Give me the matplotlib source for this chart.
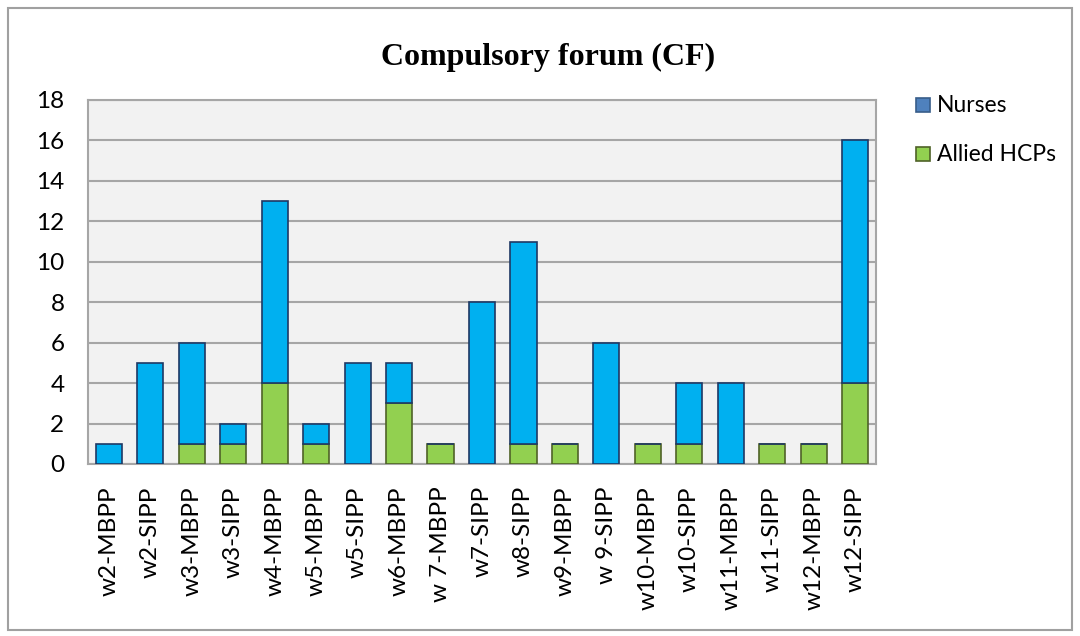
import matplotlib
matplotlib.use("Agg")
import matplotlib.pyplot as plt
from matplotlib.patches import Rectangle
import numpy as np

categories = ["w2-MBPP", "w2-SIPP", "w3-MBPP", "w3-SIPP", "w4-MBPP", "w5-MBPP",
              "w5-SIPP", "w6-MBPP", "w 7-MBPP", "w7-SIPP", "w8-SIPP", "w9-MBPP",
              "w 9-SIPP", "w10-MBPP", "w10-SIPP", "w11-MBPP", "w11-SIPP",
              "w12-MBPP", "w12-SIPP"]
allied = [0, 0, 1, 1, 4, 1, 0, 3, 1, 0, 1, 1, 0, 1, 1, 0, 1, 1, 4]
nurses = [1, 5, 5, 1, 9, 1, 5, 2, 0, 8, 10, 0, 6, 0, 3, 4, 0, 0, 12]
legend_labels = ["Nurses", "Allied HCPs"]

W, H = 1080, 636
fig = plt.figure(figsize=(W / 100, H / 100), dpi=100)
fig.patch.set_facecolor("white")
fig.patches.append(Rectangle((8 / W, 6 / H), 1064 / W, 622 / H, transform=fig.transFigure,
                             fill=False, edgecolor="#A0A0A0", linewidth=1.5))

ax = fig.add_axes([88 / W, (H - 464) / H, 788 / W, 364 / H])
ax.set_facecolor("#F2F2F2")
x = np.arange(len(categories))
w = 0.63
ax.bar(x, allied, width=w, color="#92D050", edgecolor="#4F6228", linewidth=1.2, zorder=3)
ax.bar(x, nurses, width=w, bottom=allied, color="#00B0F0", edgecolor="#1F3864",
       linewidth=1.2, zorder=3)

ax.set_xlim(-0.5, len(categories) - 0.5)
ax.set_ylim(0, 18)
ax.set_yticks(range(0, 19, 2))
ax.yaxis.grid(True, color="#A6A6A6", linewidth=1.5, zorder=0)
ax.set_axisbelow(True)
for s in ax.spines.values():
    s.set_color("#A6A6A6")
    s.set_linewidth(1.5)
ax.tick_params(axis="both", length=0, labelsize=17.5)
ax.tick_params(axis="x", pad=16)
ax.tick_params(axis="y", pad=17)
ax.set_xticks(x)
ax.set_xticklabels(categories, rotation=90, fontfamily="Lato")
for lab in ax.get_yticklabels():
    lab.set_fontfamily("Lato")

fig.text(548 / W, 1 - 57 / H, "Compulsory forum (CF)", ha="center", va="center",
         fontsize=23, fontweight="bold", fontfamily="Liberation Serif")

# legend drawn manually
leg_faces = ["#4F81BD", "#92D050"]
leg_edges = ["#385D8A", "#4F6228"]
leg_y = [105, 154]
for lbl, fc, ec, yy in zip(legend_labels, leg_faces, leg_edges, leg_y):
    fig.patches.append(Rectangle((916 / W, 1 - (yy + 7) / H), 14 / W, 14 / H,
                                 transform=fig.transFigure, facecolor=fc,
                                 edgecolor=ec, linewidth=1.2))
    fig.text(937 / W, 1 - yy / H, lbl, ha="left", va="center", fontsize=16.5,
             fontfamily="Lato")

fig.savefig("out.png", dpi=100)
